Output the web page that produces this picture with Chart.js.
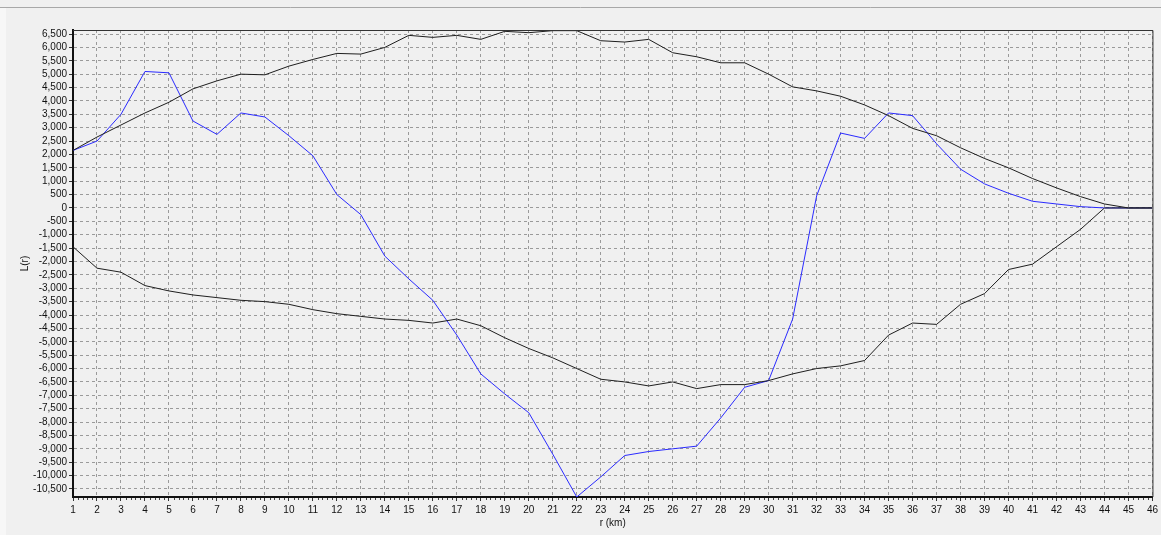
<!DOCTYPE html>
<html>
<head>
<meta charset="utf-8">
<title>L(r)</title>
<script src="https://cdn.jsdelivr.net/npm/chart.js@4/dist/chart.umd.min.js"></script>
<style>
  html, body { margin: 0; padding: 0; background: #f0f0f0; }
  #wrap { position: relative; width: 1161px; height: 535px; }
</style>
</head>
<body>
<div id="wrap"><canvas id="chart" width="1161" height="535"></canvas></div>
<script>
// Distance r (km)
const rKm = [1, 2, 3, 4, 5, 6, 7, 8, 9, 10, 11, 12, 13, 14, 15, 16, 17, 18, 19, 20, 21, 22, 23,
             24, 25, 26, 27, 28, 29, 30, 31, 32, 33, 34, 35, 36, 37, 38, 39, 40, 41, 42, 43, 44, 45, 46];

// Upper confidence envelope
const upperEnvelope = [2150, 2650, 3100, 3550, 3950, 4450, 4750, 5000, 4975, 5300, 5550, 5775, 5750,
                       6000, 6450, 6375, 6450, 6300, 6600, 6550, 6625, 6625, 6250, 6200, 6300, 5800,
                       5650, 5425, 5425, 5000, 4525, 4375, 4175, 3850, 3450, 2975, 2700, 2250, 1850,
                       1500, 1100, 750, 425, 150, 0, 0];

// Lower confidence envelope
const lowerEnvelope = [-1450, -2250, -2400, -2900, -3100, -3250, -3350, -3450, -3500, -3600, -3800,
                       -3950, -4050, -4150, -4200, -4300, -4150, -4400, -4850, -5250, -5600, -6000,
                       -6400, -6500, -6650, -6500, -6750, -6600, -6600, -6450, -6200, -6000, -5900,
                       -5700, -4750, -4300, -4350, -3600, -3200, -2300, -2100, -1450, -800, 0, 0, 0];

// Observed L(r)
const observedL = [2150, 2500, 3500, 5100, 5050, 3250, 2750, 3550, 3400, 2700, 1950, 500, -250,
                   -1800, -2650, -3450, -4750, -6200, -6950, -7650, -9200, -10800, -10050, -9250,
                   -9100, -9000, -8900, -7850, -6700, -6450, -4150, 450, 2800, 2600, 3550, 3450,
                   2400, 1450, 900, 550, 250, 150, 50, 0, 0, 0];

// Value axis ticks
const yTickValues = [6500, 6000, 5500, 5000, 4500, 4000, 3500, 3000, 2500, 2000, 1500, 1000, 500, 0,
                     -500, -1000, -1500, -2000, -2500, -3000, -3500, -4000, -4500, -5000, -5500,
                     -6000, -6500, -7000, -7500, -8000, -8500, -9000, -9500, -10000, -10500];
const yMin = -10800;
const yMax = 6650;

const pts = (vals) => rKm.map((r, i) => ({ x: r, y: vals[i] }));

const FONT = { family: "'Liberation Sans', Arial, sans-serif", size: 10 };
const TEXT = '#111';
const GRID = '#9a9a9a';

// Window background, top rule and the thin frame around the plot
const framePlugin = {
  id: 'frame',
  beforeDraw(chart) {
    const c = chart.ctx;
    c.save();
    c.fillStyle = '#f0f0f0';
    c.fillRect(0, 0, chart.width, chart.height);
    c.fillStyle = '#f7f7f7';
    c.fillRect(0, 8, 6, chart.height - 8);
    c.strokeStyle = '#a8a8a8';
    c.lineWidth = 1;
    c.beginPath();
    c.moveTo(0, 7.5);
    c.lineTo(chart.width, 7.5);
    c.stroke();
    c.restore();
  },
  afterDraw(chart) {
    const a = chart.chartArea;
    const c = chart.ctx;
    const xs = chart.scales.x;
    c.save();
    c.strokeStyle = '#333';
    c.lineWidth = 1;
    c.beginPath();
    c.moveTo(a.left, a.top + 0.5);
    c.lineTo(a.right + 0.5, a.top + 0.5);
    c.lineTo(a.right + 0.5, a.bottom);
    c.stroke();
    // minor ticks under the distance axis
    c.strokeStyle = '#444';
    c.beginPath();
    for (let i = 0; i < rKm.length - 1; i++) {
      for (let k = 1; k < 5; k++) {
        const px = Math.round(xs.getPixelForValue(rKm[i] + k * 0.2)) + 0.5;
        c.moveTo(px, a.bottom + 1);
        c.lineTo(px, a.bottom + 3);
      }
    }
    c.stroke();
    c.restore();
  }
};

new Chart(document.getElementById('chart'), {
  type: 'line',
  data: {
    datasets: [
      { label: 'Upper', data: pts(upperEnvelope), borderColor: '#1e1e1e', borderWidth: 1 },
      { label: 'Lower', data: pts(lowerEnvelope), borderColor: '#1e1e1e', borderWidth: 1 },
      { label: 'L(r)', data: pts(observedL), borderColor: '#2a2aff', borderWidth: 1 }
    ]
  },
  options: {
    responsive: false,
    animation: false,
    events: [],
    layout: { padding: { top: 30, right: 8, left: 0, bottom: 0 } },
    elements: {
      point: { radius: 0 },
      line: { tension: 0, fill: false }
    },
    plugins: {
      legend: { display: false },
      tooltip: { enabled: false }
    },
    scales: {
      x: {
        type: 'linear',
        min: 1,
        max: 46,
        afterBuildTicks: (s) => { s.ticks = rKm.map(v => ({ value: v })); },
        afterFit: (s) => { s.height = 38; },
        ticks: { autoSkip: false, maxRotation: 0, padding: 3, color: TEXT, font: FONT },
        grid: { color: GRID, lineWidth: 1, tickLength: 4, tickColor: '#333', tickBorderDash: [] },
        border: { display: true, color: '#111', width: 2, dash: [3, 3] },
        title: { display: true, text: 'r (km)', color: TEXT, font: FONT, padding: { top: 0, bottom: 6 } }
      },
      y: {
        type: 'linear',
        min: yMin,
        max: yMax,
        afterBuildTicks: (s) => { s.ticks = yTickValues.map(v => ({ value: v })); },
        afterFit: (s) => { s.width = 73; },
        ticks: {
          autoSkip: false,
          padding: 2,
          color: TEXT,
          font: FONT,
          callback: (v) => Number(v).toLocaleString('en-US')
        },
        grid: { color: GRID, lineWidth: 1, tickLength: 4, tickColor: '#333', tickBorderDash: [] },
        border: { display: true, color: '#111', width: 2, dash: [3, 3] },
        title: { display: true, text: 'L(r)', color: TEXT, font: FONT, padding: { top: 19, bottom: 0 } }
      }
    }
  },
  plugins: [framePlugin]
});
</script>
</body>
</html>
